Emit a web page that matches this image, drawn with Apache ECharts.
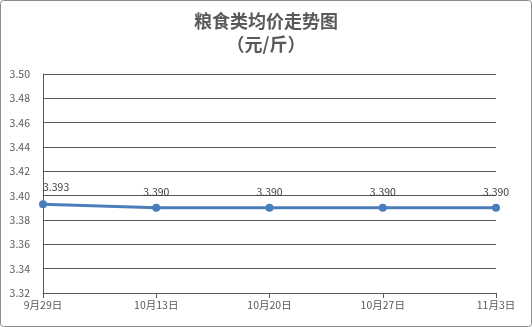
<!DOCTYPE html>
<html><head><meta charset="utf-8">
<script src="https://cdn.jsdelivr.net/npm/echarts@6/dist/echarts.min.js"></script>
<style>html,body{margin:0;padding:0;background:#fff}#c{width:532px;height:327px}</style>
</head><body><div id="c"></div>
<script>
const titleText = '粮食类均价走势图\n（元/斤）';
const categories = ['9月29日','10月13日','10月20日','10月27日','11月3日'];
const prices = [3.393, 3.390, 3.390, 3.390, 3.390];
const yMin = 3.32, yMax = 3.50, yStep = 0.02;

const chart = echarts.init(document.getElementById('c'), null, {renderer:'canvas'});
chart.setOption({
  animation: false,
  backgroundColor: '#fff',
  graphic: [{type:'rect', shape:{x:0.5,y:0.5,width:531,height:326,r:3}, style:{fill:'none', stroke:'#8c8c8c', lineWidth:1}, z:-1}],
  title: {
    text: titleText, left: 'center', top: 10,
    textStyle: {fontFamily:'Noto Sans CJK SC', fontSize:18, fontWeight:'bold', color:'#595959', lineHeight:23},
    padding:[0,0,0,0]
  },
  grid: {left:43, right:36, top:74, bottom:34},
  xAxis: {
    type:'category', data: categories, boundaryGap:false,
    axisLine:{lineStyle:{color:'#595959', width:1}},
    axisTick:{show:true, length:5, lineStyle:{color:'#595959'}},
    axisLabel:{color:'#595959', fontSize:10.5, fontFamily:'Noto Sans CJK SC', margin:7}
  },
  yAxis: {
    type:'value', min:yMin, max:yMax, interval:yStep,
    axisLine:{show:true, lineStyle:{color:'#595959'}},
    axisTick:{show:false},
    splitLine:{lineStyle:{color:'#595959', width:1}},
    axisLabel:{color:'#595959', fontSize:10.5, fontFamily:'Noto Sans CJK SC', margin:13, formatter: v => v.toFixed(2)}
  },
  series: [{
    type:'line', data: prices.map((v,i)=> i===0 ? {value:v, label:{position:'top', align:'left', offset:[0,-1]}} : v),
    symbol:'circle', symbolSize:8,
    lineStyle:{color:'#4a7ebb', width:3},
    itemStyle:{color:'#4a7ebb'},
    label:{show:true, position:'top', distance:7, color:'#404040', fontSize:10.5, fontFamily:'Noto Sans CJK SC', formatter: p => p.value.toFixed(3)}
  }]
});
</script></body></html>
